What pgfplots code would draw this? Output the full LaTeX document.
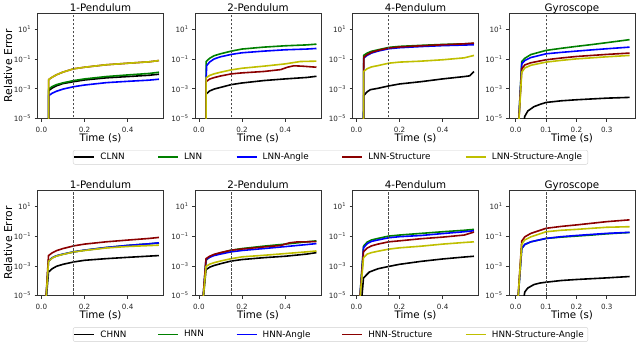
\documentclass[border=0pt]{standalone}
\usepackage{pgfplots}
\pgfplotsset{compat=1.18}
\usepackage{fontspec}
\setmainfont{DejaVu Sans}
\definecolor{mgreen}{HTML}{008000}
\definecolor{mblue}{HTML}{0000FF}
\definecolor{mred}{HTML}{8B0000}
\definecolor{myellow}{HTML}{BFBF00}
\pgfplotsset{
  panel/.style={
    width=126pt, height=105pt, scale only axis,
    ymin=1e-5, ymax=115,
    ytick={1e-5,1e-3,1e-1,10},
    yticklabels={10\textsuperscript{−5},10\textsuperscript{−3},10\textsuperscript{−1},10\textsuperscript{1}},
    tick align=outside, tick pos=left, major tick length=3pt,
    minor tick num=0, minor tick length=0pt,
    axis line style={black!80, line width=0.7pt},
    every tick/.style={black!80, line width=0.6pt},
    ticklabel style={font=\fontsize{7.2}{8}\selectfont, text=black!85},
    xticklabel style={anchor=base, yshift=-11pt},
    every axis title shift=0pt,
    title style={font=\fontsize{10.3}{12}\selectfont, at={(0.5,1)}, anchor=base, yshift=2.5pt},
    xlabel={Time (s)},
    xlabel style={font=\fontsize{10.3}{12}\selectfont, at={(0.5,0)}, anchor=base, yshift=-22.5pt},
    ylabel style={font=\fontsize{10.8}{12}\selectfont, at={(-0.234,0.5)}, anchor=center},
    every axis plot/.append style={line width=1.6pt, line join=round},
  },
  pend/.style={xmin=-0.018, xmax=0.566, xtick={0,0.2,0.4}, xticklabels={0.0,0.2,0.4}},
  gyro/.style={xmin=-0.022, xmax=0.393, xtick={0,0.1,0.2,0.3}, xticklabels={0.0,0.1,0.2,0.3}},
  vline/.style={black!70, line width=1pt, dash pattern=on 2.5pt off 1.5pt},
  leg/.style={legend columns=5, legend cell align=left,
    legend image code/.code={\draw[##1, line width=1.6pt] (0pt,0pt) -- (20pt,0pt);},
    legend style={at={(0.2817,-0.3)}, anchor=north west, draw=black!18, rounded corners=2pt,
      inner xsep=0.5pt, inner ysep=1.5pt, font=\fontsize{8.8}{10}\selectfont,
      /tikz/every odd column/.style={column sep=3.7pt},
      /tikz/every even column/.style={column sep=0pt},
      nodes={inner sep=1.5pt}}},
}
\begin{document}
\begin{tikzpicture}
\useasboundingbox (0pt,0pt) rectangle (640pt,-345pt);
% ---------------- Top row: LNN ----------------
\begin{axis}[ymode=log, panel, pend, leg, at={(37.5pt,-13.5pt)}, anchor=north west, title={1-Pendulum}, ylabel={Relative Error}]
\addplot[black] coordinates {(0.033,1e-7) (0.0335,7.4e-4) (0.05,1.12e-3) (0.07,1.58e-3) (0.1,2.24e-3) (0.15,3.0e-3) (0.2,3.9e-3) (0.3,5.4e-3) (0.4,6.6e-3) (0.5,8.1e-3) (0.545,9.5e-3)};
\addplot[mgreen] coordinates {(0.033,1e-7) (0.0335,9.5e-4) (0.05,1.41e-3) (0.07,1.9e-3) (0.1,2.5e-3) (0.15,3.55e-3) (0.2,4.6e-3) (0.3,6.6e-3) (0.4,8.5e-3) (0.5,1.07e-2) (0.545,1.29e-2)};
\addplot[mblue] coordinates {(0.033,1e-7) (0.0335,3.4e-4) (0.05,5.0e-4) (0.07,6.8e-4) (0.1,9.5e-4) (0.15,1.38e-3) (0.2,1.78e-3) (0.3,2.57e-3) (0.4,3.16e-3) (0.5,3.8e-3) (0.545,4.4e-3)};
\addplot[mred] coordinates {(0.033,1e-7) (0.0335,4.1e-3) (0.05,6.0e-3) (0.07,8.7e-3) (0.1,1.32e-2) (0.15,2.2e-2) (0.2,2.8e-2) (0.3,4.1e-2) (0.4,5.2e-2) (0.5,6.5e-2) (0.545,7.9e-2)};
\addplot[myellow] coordinates {(0.033,1e-7) (0.0335,4.1e-3) (0.05,6.0e-3) (0.07,8.7e-3) (0.1,1.32e-2) (0.15,2.2e-2) (0.2,2.8e-2) (0.3,4.1e-2) (0.4,5.2e-2) (0.5,6.5e-2) (0.545,7.9e-2)};
\addplot[vline, forget plot] coordinates {(0.15,1e-6) (0.15,1000)};
\legend{\makebox[55.3pt][l]{CLNN},\makebox[50.3pt][l]{LNN},\makebox[77.3pt][l]{LNN-Angle},\makebox[95.3pt][l]{LNN-Structure},\makebox[94pt][l]{LNN-Structure-Angle}}
\end{axis}
\begin{axis}[ymode=log, panel, pend, at={(195pt,-13.5pt)}, anchor=north west, title={2-Pendulum}]
\addplot[black] coordinates {(0.033,1e-7) (0.0335,4.4e-4) (0.05,7.1e-4) (0.07,9.5e-4) (0.1,1.23e-3) (0.15,1.9e-3) (0.2,2.45e-3) (0.3,3.55e-3) (0.4,4.6e-3) (0.5,5.75e-3) (0.545,6.9e-3)};
\addplot[mgreen] coordinates {(0.033,1e-7) (0.0335,6.8e-2) (0.05,0.112) (0.07,0.166) (0.1,0.224) (0.15,0.339) (0.2,0.468) (0.3,0.63) (0.4,0.776) (0.5,0.89) (0.545,1.0)};
\addplot[mblue] coordinates {(0.033,1e-7) (0.0335,4.0e-3) (0.036,3.6e-2) (0.05,6.3e-2) (0.07,0.1) (0.1,0.141) (0.15,0.204) (0.2,0.263) (0.3,0.339) (0.4,0.417) (0.5,0.468) (0.545,0.513)};
\addplot[mred] coordinates {(0.033,1e-7) (0.0335,3.0e-3) (0.05,4.5e-3) (0.07,5.6e-3) (0.1,7.2e-3) (0.15,1e-2) (0.2,1.17e-2) (0.3,1.45e-2) (0.38,1.95e-2) (0.41,2.8e-2) (0.44,3.5e-2) (0.48,3.3e-2) (0.545,2.8e-2)};
\addplot[myellow] coordinates {(0.033,1e-7) (0.0335,5.4e-3) (0.05,7.9e-3) (0.07,1e-2) (0.1,1.29e-2) (0.15,1.86e-2) (0.2,2.4e-2) (0.3,3.3e-2) (0.4,4.7e-2) (0.47,6.8e-2) (0.545,7.2e-2)};
\addplot[vline] coordinates {(0.15,1e-6) (0.15,1000)};
\end{axis}
\begin{axis}[ymode=log, panel, pend, at={(352.5pt,-13.5pt)}, anchor=north west, title={4-Pendulum}]
\addplot[black] coordinates {(0.033,1e-7) (0.0335,3.4e-4) (0.05,6.3e-4) (0.065,8.7e-4) (0.1,1.07e-3) (0.15,1.55e-3) (0.2,2.1e-3) (0.3,3.0e-3) (0.4,4.6e-3) (0.5,6.6e-3) (0.525,7.4e-3) (0.545,1.45e-2)};
\addplot[mgreen] coordinates {(0.033,1e-7) (0.0335,0.174) (0.05,0.251) (0.07,0.331) (0.1,0.417) (0.15,0.603) (0.2,0.708) (0.3,0.83) (0.4,0.955) (0.5,1.05) (0.545,1.12)};
\addplot[mblue] coordinates {(0.033,1e-7) (0.0335,0.112) (0.05,0.178) (0.07,0.25) (0.1,0.34) (0.15,0.49) (0.2,0.575) (0.3,0.69) (0.4,0.794) (0.5,0.87) (0.545,0.91)};
\addplot[mred] coordinates {(0.033,1e-7) (0.0335,1.45e-2) (0.035,0.135) (0.05,0.2) (0.07,0.28) (0.1,0.38) (0.15,0.55) (0.2,0.646) (0.3,0.776) (0.4,0.91) (0.5,1.05) (0.545,1.17)};
\addplot[myellow] coordinates {(0.033,1e-7) (0.0335,1.45e-2) (0.05,2.24e-2) (0.07,2.95e-2) (0.1,3.6e-2) (0.15,5.25e-2) (0.2,6.2e-2) (0.3,7.2e-2) (0.4,8.9e-2) (0.5,0.12) (0.545,0.174)};
\addplot[vline] coordinates {(0.15,1e-6) (0.15,1000)};
\end{axis}
\begin{axis}[ymode=log, panel, gyro, at={(509pt,-13.5pt)}, anchor=north west, title={Gyroscope}]
\addplot[black] coordinates {(0.021,1e-6) (0.03,1.41e-5) (0.04,3.2e-5) (0.06,6.2e-5) (0.08,8.9e-5) (0.1,1.2e-4) (0.15,1.55e-4) (0.2,1.82e-4) (0.3,2.34e-4) (0.375,2.63e-4)};
\addplot[mgreen] coordinates {(0.008,1e-6) (0.02,6.8e-2) (0.03,0.112) (0.05,0.2) (0.1,0.38) (0.15,0.525) (0.2,0.708) (0.25,0.933) (0.3,1.26) (0.375,2.0)};
\addplot[mblue] coordinates {(0.008,1e-6) (0.02,4.7e-2) (0.03,7.9e-2) (0.05,0.126) (0.1,0.224) (0.15,0.28) (0.2,0.34) (0.25,0.41) (0.3,0.49) (0.375,0.63)};
\addplot[mred] coordinates {(0.008,1e-6) (0.02,2.2e-2) (0.03,4e-2) (0.05,5.6e-2) (0.1,8.9e-2) (0.15,0.117) (0.2,0.148) (0.25,0.174) (0.3,0.204) (0.375,0.251)};
\addplot[myellow] coordinates {(0.008,1e-6) (0.02,1.29e-2) (0.03,2.5e-2) (0.05,3.8e-2) (0.1,6.2e-2) (0.15,8.1e-2) (0.2,0.102) (0.25,0.12) (0.3,0.141) (0.375,0.174)};
\addplot[vline] coordinates {(0.1,1e-6) (0.1,1000)};
\end{axis}
% ---------------- Bottom row: HNN ----------------
\begin{axis}[ymode=log, panel, pend, leg, at={(37.5pt,-190.7pt)}, anchor=north west, title={1-Pendulum}, ylabel={Relative Error}]
\addplot[black] coordinates {(0.018,1e-6) (0.033,3.9e-4) (0.05,6.5e-4) (0.07,9.5e-4) (0.1,1.29e-3) (0.15,1.86e-3) (0.2,2.4e-3) (0.3,3.1e-3) (0.4,3.8e-3) (0.5,4.6e-3) (0.545,5.0e-3)};
\addplot[mgreen] coordinates {(0.018,1e-6) (0.033,2.14e-3) (0.05,3.55e-3) (0.07,4.8e-3) (0.1,6.2e-3) (0.15,8.9e-3) (0.2,1.15e-2) (0.3,1.74e-2) (0.4,2.4e-2) (0.5,3.1e-2) (0.545,3.5e-2)};
\addplot[mblue] coordinates {(0.018,1e-6) (0.033,2.14e-3) (0.05,3.55e-3) (0.07,4.8e-3) (0.1,6.2e-3) (0.15,8.9e-3) (0.2,1.15e-2) (0.3,1.74e-2) (0.4,2.4e-2) (0.5,3.1e-2) (0.545,3.6e-2)};
\addplot[mred] coordinates {(0.018,1e-6) (0.033,5.0e-3) (0.05,7.6e-3) (0.07,1.07e-2) (0.1,1.48e-2) (0.15,2.24e-2) (0.2,2.95e-2) (0.3,4.2e-2) (0.4,5.5e-2) (0.5,7.1e-2) (0.545,8.3e-2)};
\addplot[myellow] coordinates {(0.018,1e-6) (0.033,2.0e-3) (0.05,3.4e-3) (0.07,4.6e-3) (0.1,6.0e-3) (0.15,8.7e-3) (0.2,1.1e-2) (0.3,1.62e-2) (0.4,2.04e-2) (0.5,2.34e-2) (0.545,2.5e-2)};
\addplot[vline, forget plot] coordinates {(0.15,1e-6) (0.15,1000)};
\legend{\makebox[55.3pt][l]{CHNN},\makebox[50.3pt][l]{HNN},\makebox[77.3pt][l]{HNN-Angle},\makebox[95.3pt][l]{HNN-Structure},\makebox[94pt][l]{HNN-Structure-Angle}}
\end{axis}
\begin{axis}[ymode=log, panel, pend, at={(195pt,-190.7pt)}, anchor=north west, title={2-Pendulum}]
\addplot[black] coordinates {(0.015,1e-6) (0.033,5.6e-4) (0.05,8.3e-4) (0.07,1.07e-3) (0.1,1.41e-3) (0.15,2.14e-3) (0.2,2.7e-3) (0.3,3.6e-3) (0.4,4.5e-3) (0.5,6.3e-3) (0.545,7.9e-3)};
\addplot[mgreen] coordinates {(0.015,1e-6) (0.033,2.4e-3) (0.05,4e-3) (0.07,5.6e-3) (0.1,7.6e-3) (0.15,1.15e-2) (0.2,1.48e-2) (0.3,2.14e-2) (0.4,2.95e-2) (0.5,4.2e-2) (0.545,4.9e-2)};
\addplot[mblue] coordinates {(0.015,1e-6) (0.033,2.75e-3) (0.05,3.8e-3) (0.07,5e-3) (0.1,6.3e-3) (0.15,8.9e-3) (0.2,1.1e-2) (0.3,1.48e-2) (0.4,2e-2) (0.5,2.75e-2) (0.545,3.2e-2)};
\addplot[mred] coordinates {(0.015,1e-6) (0.033,3.1e-3) (0.05,4.5e-3) (0.07,6e-3) (0.1,7.9e-3) (0.15,1.15e-2) (0.2,1.38e-2) (0.3,1.9e-2) (0.38,2.4e-2) (0.42,3.6e-2) (0.46,4.2e-2) (0.5,4.2e-2) (0.545,4.4e-2)};
\addplot[myellow] coordinates {(0.015,1e-6) (0.033,9.3e-4) (0.05,1.32e-3) (0.07,1.66e-3) (0.1,2.14e-3) (0.15,3.1e-3) (0.2,4.1e-3) (0.3,5.2e-3) (0.4,6.8e-3) (0.5,8.9e-3) (0.545,1.02e-2)};
\addplot[vline] coordinates {(0.15,1e-6) (0.15,1000)};
\end{axis}
\begin{axis}[ymode=log, panel, pend, at={(352.5pt,-190.7pt)}, anchor=north west, title={4-Pendulum}]
\addplot[black] coordinates {(0.02,1e-6) (0.033,1.58e-4) (0.06,3.9e-4) (0.1,6.5e-4) (0.15,9.3e-4) (0.2,1.29e-3) (0.3,2.04e-3) (0.4,2.95e-3) (0.5,4e-3) (0.545,4.5e-3)};
\addplot[mgreen] coordinates {(0.012,1e-6) (0.033,2.14e-2) (0.05,4e-2) (0.07,5.6e-2) (0.1,7.1e-2) (0.15,0.102) (0.2,0.12) (0.3,0.155) (0.4,0.2) (0.5,0.251) (0.545,0.288)};
\addplot[mblue] coordinates {(0.012,1e-6) (0.033,1.66e-2) (0.05,3.16e-2) (0.07,4.5e-2) (0.1,5.6e-2) (0.15,7.9e-2) (0.2,9.3e-2) (0.3,0.112) (0.4,0.151) (0.5,0.2) (0.545,0.234)};
\addplot[mred] coordinates {(0.012,1e-6) (0.033,8.9e-3) (0.05,1.58e-2) (0.07,2.24e-2) (0.1,2.95e-2) (0.15,4.2e-2) (0.2,4.9e-2) (0.3,6.8e-2) (0.4,8.7e-2) (0.5,0.12) (0.545,0.19)};
\addplot[myellow] coordinates {(0.012,1e-6) (0.033,3.6e-3) (0.05,6.3e-3) (0.07,7.9e-3) (0.1,9.8e-3) (0.15,1.35e-2) (0.2,1.66e-2) (0.3,2.14e-2) (0.4,2.95e-2) (0.5,3.8e-2) (0.545,4.2e-2)};
\addplot[vline] coordinates {(0.15,1e-6) (0.15,1000)};
\end{axis}
\begin{axis}[ymode=log, panel, gyro, at={(509pt,-190.7pt)}, anchor=north west, title={Gyroscope}]
\addplot[black] coordinates {(0.02,1e-6) (0.03,1.78e-5) (0.04,3.3e-5) (0.06,5.6e-5) (0.08,7.1e-5) (0.1,8.1e-5) (0.15,1.05e-4) (0.2,1.23e-4) (0.3,1.58e-4) (0.375,1.95e-4)};
\addplot[mgreen] coordinates {(0.005,1e-6) (0.02,1.48e-2) (0.03,2.8e-2) (0.05,4.2e-2) (0.1,7.1e-2) (0.15,8.7e-2) (0.2,0.102) (0.25,0.12) (0.3,0.145) (0.375,0.178)};
\addplot[mblue] coordinates {(0.005,1e-6) (0.02,1.48e-2) (0.03,2.8e-2) (0.05,4.2e-2) (0.1,7.1e-2) (0.15,9.3e-2) (0.2,0.112) (0.25,0.132) (0.3,0.155) (0.375,0.182)};
\addplot[mred] coordinates {(0.005,1e-6) (0.02,4.7e-2) (0.03,9.1e-2) (0.05,0.155) (0.1,0.34) (0.15,0.457) (0.2,0.575) (0.25,0.74) (0.3,0.955) (0.375,1.26)};
\addplot[myellow] coordinates {(0.005,1e-6) (0.02,2.95e-2) (0.03,5.6e-2) (0.05,9.1e-2) (0.1,0.2) (0.15,0.251) (0.2,0.288) (0.25,0.34) (0.3,0.4) (0.375,0.437)};
\addplot[vline] coordinates {(0.1,1e-6) (0.1,1000)};
\end{axis}
\end{tikzpicture}
\end{document}
